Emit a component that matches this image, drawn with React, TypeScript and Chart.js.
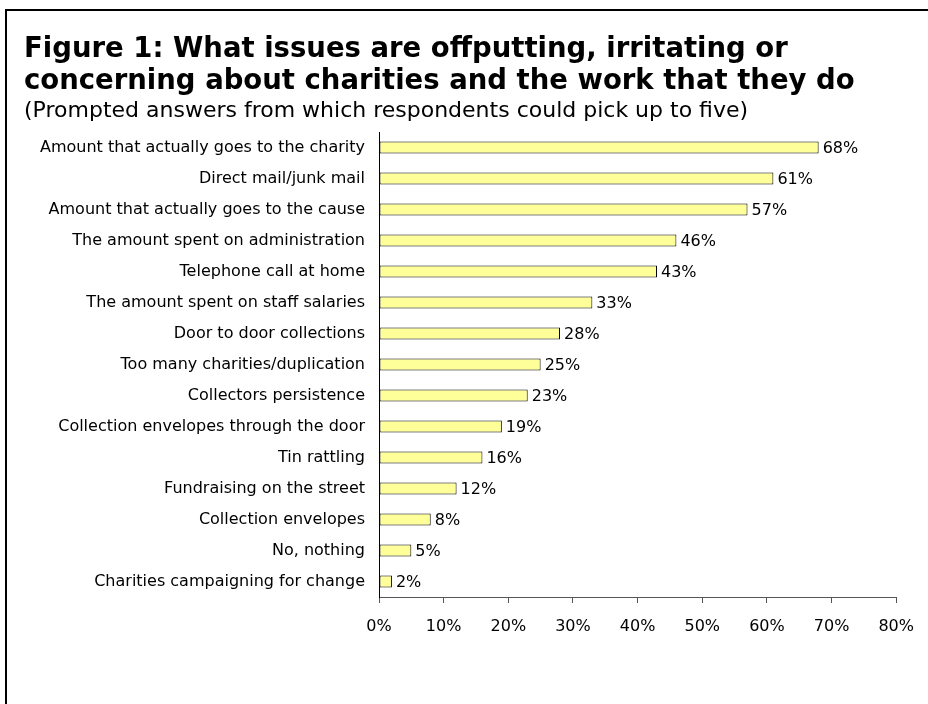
import React, { useEffect, useRef } from "react";
import { Chart, registerables } from "chart.js";

Chart.register(...registerables);

const titleLines = [
  "Figure 1: What issues are offputting, irritating or",
  "concerning about charities and the work that they do",
];
const subtitle = "(Prompted answers from which respondents could pick up to five)";

const categories = [
  "Amount that actually goes to the charity",
  "Direct mail/junk mail",
  "Amount that actually goes to the cause",
  "The amount spent on administration",
  "Telephone call at home",
  "The amount spent on staff salaries",
  "Door to door collections",
  "Too many charities/duplication",
  "Collectors persistence",
  "Collection envelopes through the door",
  "Tin rattling",
  "Fundraising on the street",
  "Collection envelopes",
  "No, nothing",
  "Charities campaigning for change",
];
const values = [68, 61, 57, 46, 43, 33, 28, 25, 23, 19, 16, 12, 8, 5, 2];
const xTicks = [0, 10, 20, 30, 40, 50, 60, 70, 80];

const FONT = "'DejaVu Sans', sans-serif";

const valueLabels = {
  id: "valueLabels",
  afterDatasetsDraw(chart: any) {
    const ctx = chart.ctx;
    const meta = chart.getDatasetMeta(0);
    ctx.save();
    ctx.font = `16px ${FONT}`;
    ctx.fillStyle = "#000";
    ctx.textAlign = "left";
    ctx.textBaseline = "middle";
    meta.data.forEach((bar: any, i: number) => {
      ctx.fillText(values[i] + "%", bar.x + 4, bar.y + 1);
    });
    ctx.restore();
  },
};

export default function App() {
  const ref = useRef<HTMLCanvasElement>(null);
  useEffect(() => {
    if (!ref.current) return;
    const chart = new Chart(ref.current, {
      type: "bar",
      data: {
        labels: categories,
        datasets: [
          {
            data: values,
            backgroundColor: "#FFFF99",
            borderColor: "#000000",
            borderWidth: 1,
            borderSkipped: false,
            barPercentage: 0.39,
            categoryPercentage: 1.0,
          },
        ],
      },
      options: {
        indexAxis: "y",
        animation: false,
        responsive: false,
        layout: { padding: { top: 132, right: 26, left: 0, bottom: 0 } },
        plugins: {
          legend: { display: false },
          tooltip: { enabled: false },
          title: { display: false },
        },
        scales: {
          x: {
            type: "linear",
            min: 0,
            max: 80,
            afterBuildTicks(scale: any) {
              scale.ticks = xTicks.map((v) => ({ value: v }));
            },
            afterFit(scale: any) {
              scale.height = 107;
            },
            grid: {
              display: true,
              drawOnChartArea: false,
              drawTicks: true,
              tickLength: 6,
              color: "#555555",
            },
            border: { display: true, color: "#555555", width: 1 },
            ticks: {
              padding: 14,
              color: "#000",
              font: { family: FONT, size: 16 },
              callback: (v: any) => v + "%",
              maxRotation: 0,
            },
          },
          y: {
            afterFit(scale: any) {
              scale.width = 379;
            },
            grid: { display: false, drawTicks: false },
            border: { display: true, color: "#000", width: 1 },
            ticks: {
              padding: 14,
              color: "#000",
              font: { family: FONT, size: 16 },
              autoSkip: false,
            },
          },
        },
      },
      plugins: [valueLabels],
    });
    return () => chart.destroy();
  }, []);

  return (
    <div
      style={{
        position: "fixed",
        left: 0,
        top: 0,
        width: 928,
        height: 704,
        overflow: "hidden",
        background: "#fff",
      }}
    >
      <canvas
        ref={ref}
        width={928}
        height={704}
        style={{ position: "absolute", left: 0, top: 0, display: "block" }}
      />
      <div
        style={{
          position: "absolute",
          left: 5,
          top: 9,
          width: 2000,
          height: 2000,
          borderTop: "2px solid #000",
          borderLeft: "2px solid #000",
        }}
      />
      <div
        style={{
          position: "absolute",
          left: 24,
          top: 31,
          fontFamily: FONT,
          fontWeight: "bold",
          fontSize: 27.5,
          lineHeight: "32px",
          color: "#000",
          whiteSpace: "nowrap",
        }}
      >
        <div>{titleLines[0]}</div>
        <div>{titleLines[1]}</div>
      </div>
      <div
        style={{
          position: "absolute",
          left: 24,
          top: 97,
          fontFamily: FONT,
          fontSize: 22,
          lineHeight: "26px",
          color: "#000",
          whiteSpace: "nowrap",
        }}
      >
        {subtitle}
      </div>
    </div>
  );
}
